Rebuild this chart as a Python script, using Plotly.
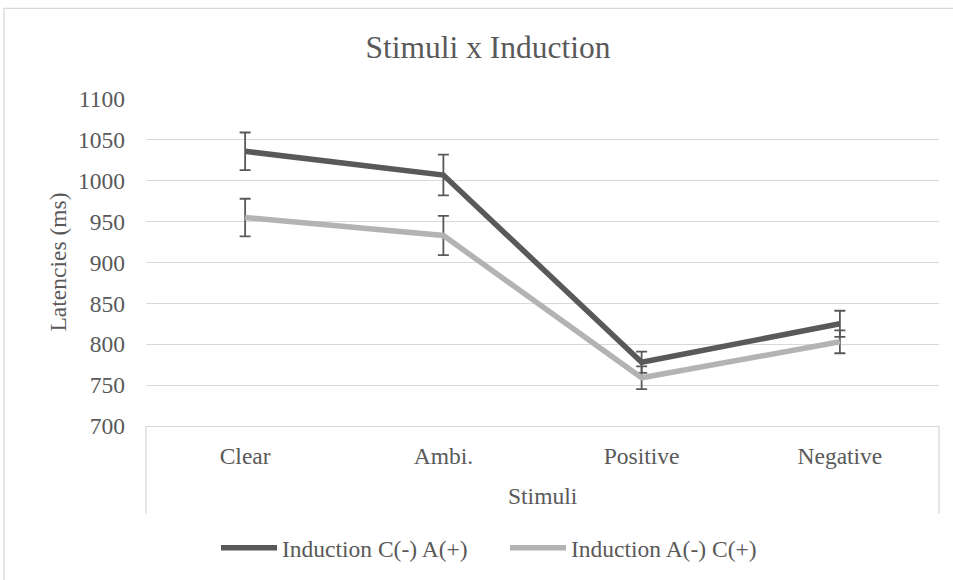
import plotly.graph_objects as go

# Mean latencies (ms) per stimulus type and induction condition, with error bars
stimuli = ["Clear", "Ambi.", "Positive", "Negative"]
series_names = ["Induction C(-) A(+)", "Induction A(-) C(+)"]
latency_ca = [1036, 1007, 778, 825]
error_ca = [23, 25, 13, 16]
latency_ac = [955, 933, 759, 803]
error_ac = [23, 24, 14, 14]
y_ticks = [700, 750, 800, 850, 900, 950, 1000, 1050, 1100]

FONT = "Liberation Serif, Times New Roman, serif"
TEXT = "#595959"
GRID = "#d9d9d9"
W, H = 953, 580
L, R, T, B = 146, 14, 99, 153
PW, PH = W - L - R, H - T - B


def px_x(px):
    return (px - L) / PW


def px_y(py):
    return (H - B - py) / PH


fig = go.Figure()
fig.add_trace(go.Scatter(
    x=stimuli, y=latency_ca, name=series_names[0], mode="lines",
    line=dict(color="#595959", width=5.5),
    error_y=dict(type="data", array=error_ca, visible=True,
                 color="#595959", thickness=1.8, width=5.5),
))
fig.add_trace(go.Scatter(
    x=stimuli, y=latency_ac, name=series_names[1], mode="lines",
    line=dict(color="#b3b3b3", width=5.5),
    error_y=dict(type="data", array=error_ac, visible=True,
                 color="#595959", thickness=1.8, width=5.5),
))

shapes = [
    # chart area border
    dict(type="rect", xref="paper", yref="paper",
         x0=px_x(4), x1=px_x(990), y0=px_y(620), y1=px_y(8),
         line=dict(color=GRID, width=1.3), fillcolor="rgba(0,0,0,0)", layer="below"),
    # category axis box sides
    dict(type="line", xref="paper", yref="paper", x0=0, x1=0,
         y0=0, y1=px_y(515), line=dict(color=GRID, width=1.3)),
    dict(type="line", xref="paper", yref="paper", x0=1, x1=1,
         y0=0, y1=px_y(515), line=dict(color=GRID, width=1.3)),
]

annotations = [
    dict(text="Latencies (ms)", xref="paper", yref="paper",
         x=px_x(57), y=0.5, textangle=-90, showarrow=False,
         xanchor="center", yanchor="middle",
         font=dict(family=FONT, size=23.5, color=TEXT)),
    dict(text="Stimuli", xref="paper", yref="paper",
         x=0.5, y=px_y(497), showarrow=False,
         xanchor="center", yanchor="middle",
         font=dict(family=FONT, size=23.5, color=TEXT)),
]

fig.update_layout(
    width=W, height=H,
    margin=dict(l=L, r=R, t=T, b=B),
    paper_bgcolor="white", plot_bgcolor="white",
    font=dict(family=FONT, size=23.5, color=TEXT),
    title=dict(text="Stimuli x Induction", x=488 / W, xref="container",
               xanchor="center", y=1 - 47 / H, yref="container", yanchor="middle",
               font=dict(family=FONT, size=31.5, color=TEXT)),
    xaxis=dict(range=[-0.5, 3.5], showgrid=False, showline=True,
               linecolor=GRID, linewidth=1.3, ticks="", ticklabelstandoff=9,
               tickfont=dict(family=FONT, size=23.5, color=TEXT), zeroline=False),
    yaxis=dict(range=[700, 1100], tickvals=y_ticks, showgrid=True,
               gridcolor=GRID, gridwidth=1.3, showline=False, zeroline=False,
               ticks="", ticklabelstandoff=20,
               tickfont=dict(family=FONT, size=23.5, color=TEXT)),
    legend=dict(orientation="h", x=px_x(216), xanchor="left",
                y=px_y(548), yanchor="middle", itemwidth=56,
                entrywidth=218, entrywidthmode="pixels",
                font=dict(family=FONT, size=23.5, color=TEXT),
                bgcolor="rgba(0,0,0,0)"),
    shapes=shapes,
    annotations=annotations,
)

fig.write_html("out.html")
